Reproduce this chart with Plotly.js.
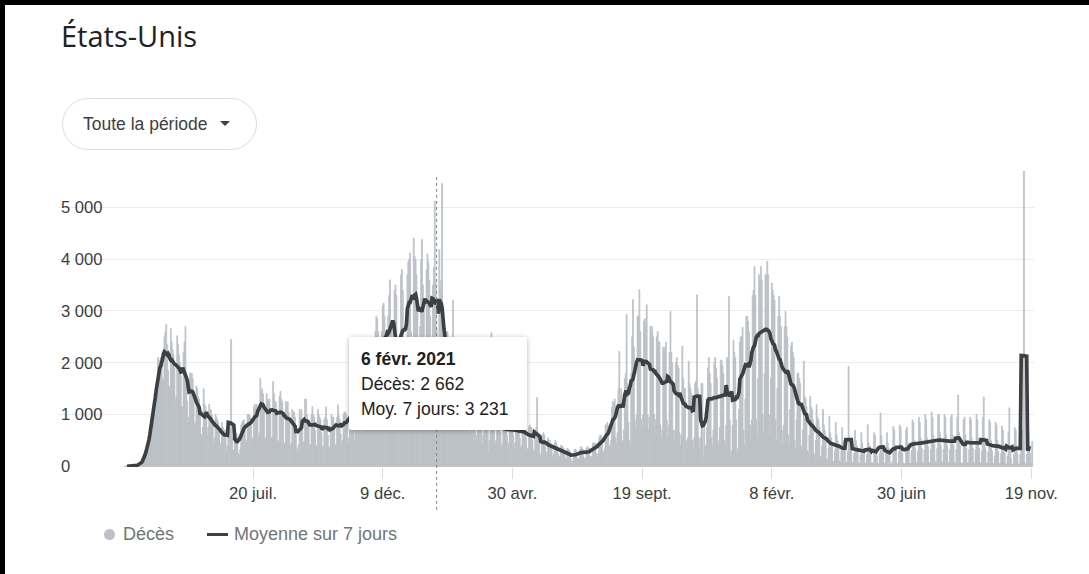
<!DOCTYPE html>
<html lang="fr">
<head>
<meta charset="utf-8">
<script src="https://cdn.plot.ly/plotly-3.0.1.min.js"></script>
<style>
  html, body { margin:0; padding:0; width:1089px; height:574px; overflow:hidden; background:#fff;
    font-family: Arial, "Liberation Sans", sans-serif; }
  #chart { position:absolute; left:0; top:0; width:1089px; height:574px; }
  .frameTop { position:absolute; left:0; top:0; width:1089px; height:5px; background:#000; }
  .frameLeft { position:absolute; left:0; top:0; width:5px; height:574px; background:#000; }
  #period { position:absolute; left:62px; top:98px; width:195px; height:52px; box-sizing:border-box;
    border:1px solid #dadce0; border-radius:26px; font-size:17.5px; color:#3c4043; line-height:50px;
    padding-left:20px; white-space:nowrap; }
  #period .caret { display:inline-block; width:0; height:0; margin-left:12px; vertical-align:middle;
    border-left:5px solid transparent; border-right:5px solid transparent; border-top:5px solid #3c4043;
    position:relative; top:-2px; }
  #tip { position:absolute; left:349px; top:337px; width:178px; height:93px; box-sizing:border-box;
    background:#fff; box-shadow:0 1px 5px rgba(0,0,0,0.30); border-radius:2px; padding:10px 0 0 12px;
    font-size:17.5px; line-height:25px; color:#202124; white-space:nowrap; }
  #tip b { font-weight:bold; }
  .lg { position:absolute; font-size:18px; line-height:20px; color:#70757a; white-space:nowrap; }
  .dot { position:absolute; left:104px; top:529px; width:11px; height:11px; border-radius:50%; background:#bdc1c6; }
  .dash { position:absolute; left:207px; top:533px; width:21px; height:3px; background:#3c4043; }
</style>
</head>
<body>
<div id="chart"></div>
<div id="period">Toute la période<span class="caret"></span></div>
<div class="dot"></div><div class="lg" style="left:123px;top:524px;">Décès</div>
<div class="dash"></div><div class="lg" style="left:234px;top:524px;">Moyenne sur 7 jours</div>
<div id="tip"></div>
<div class="frameTop"></div><div class="frameLeft"></div>
<script>
// ---------- data ----------
const chartTitle = 'États-Unis';
const startDate = '2020-03-01'; // first day of the daily series (a Sunday)

// Daily deaths, one row per week (Sun..Sat)
const deaths2020 = [
  0,1,1,3,3,2,3,
  3,5,8,9,10,12,14,
  14,22,32,44,58,72,58,
  110,150,230,280,380,430,450,
  500,600,900,1000,1150,1250,1000,
  1350,1450,2100,2000,2050,2100,1950,
  1700,1650,2500,2600,2740,2350,1850,
  1550,1500,2660,2400,2250,2150,1900,
  1250,1350,2520,2350,2150,2000,1750,
  1150,1150,2200,2400,2700,1650,1250,
  850,950,1800,1750,1800,1700,1350,
  800,850,1550,1500,1350,1300,1100,
  620,550,750,1500,1200,1150,950,
  600,750,1200,1050,1100,1000,800,
  450,550,1000,950,900,850,750,
  350,450,850,750,700,700,550,
  300,400,800,750,700,2450,550,
  280,320,700,650,620,580,250,
  220,330,800,850,880,900,700,
  450,500,1000,1000,1000,950,800,
  500,550,1150,1200,1100,1200,1000,
  550,650,1700,1450,1500,1400,1200,
  500,550,1400,1300,1250,1300,1000,
  550,550,1640,1400,1200,1250,1000,
  500,480,1350,1450,1300,1250,1000,
  450,450,1250,1150,1250,1050,950,
  400,450,1100,1050,1050,950,650,
  350,280,420,1100,950,1100,700,
  450,480,1300,1300,1000,900,750,
  400,420,1000,1150,1000,950,700,
  380,400,1100,1000,950,900,650,
  350,400,900,950,1150,900,600,
  380,350,750,1000,950,950,700,
  400,420,950,1190,980,900,620,
  430,500,1000,1050,1050,1000,850,
  420,550,1150,1200,1150,1250,1000,
  500,700,1450,1400,1200,1400,1200,
  650,800,1700,2050,2000,1950,1500,
  850,1000,2200,2300,1300,1400,1250,
  800,1200,2600,2900,2850,2600,2400,
  1200,1400,2600,3100,3150,2900,2500,
  1400,1500,2900,3300,3600,2800,2700,
  1750,1950,3400,3500,3300,1300,1500,
  1400,1900,3700,3800,3400,2000,2100
];
const deaths2021 = [
  1450,2000,3700,3950,4000,4120,2600,
  1800,2000,4410,4050,4000,3700,3200,
  1900,1450,2700,4000,4380,3500,3000,
  1900,2000,3800,4100,3950,3600,2900,
  1850,1900,3500,3850,5120,3550,2662,
  1450,1800,4185,3400,3600,5460,2300,
  1300,1200,2200,2600,2600,2400,1800,
  1200,1300,2500,3200,2400,2200,1600,
  1050,1300,2100,2400,2200,1900,1500,
  750,900,1900,2000,1800,1600,1200,
  650,800,1400,1500,1450,1300,1000,
  500,600,1200,1250,1200,1150,900,
  450,600,1100,1200,1150,1050,750,
  300,500,1000,2580,1100,1000,750,
  400,500,950,1000,950,900,650,
  380,450,900,950,950,850,600,
  350,450,850,950,900,850,600,
  350,450,850,900,900,850,550,
  350,400,850,900,850,800,550,
  300,350,750,800,750,750,500,
  280,330,700,750,1330,650,450,
  250,200,550,600,650,600,400,
  220,280,550,500,500,450,350,
  180,230,450,500,450,400,250,
  150,200,400,400,380,350,230,
  130,170,350,330,320,280,150,
  80,100,250,320,330,300,150,
  120,150,330,380,360,330,180,
  130,160,350,380,360,350,200,
  140,200,450,450,420,450,250,
  180,250,550,600,600,550,300,
  250,350,800,800,850,800,400,
  350,500,1150,1250,1200,1300,550,
  450,650,1500,2220,1300,1500,450,
  500,700,1700,1800,2930,1600,850,
  500,400,1800,2500,3220,2300,900,
  700,1000,2900,2900,3410,2600,900,
  750,1000,2800,2850,2700,3120,1000,
  700,950,2700,2600,2700,2500,1000,
  650,900,2500,2600,2400,2400,800,
  550,700,2300,2200,2300,2400,900,
  550,800,2200,2990,2200,2000,700,
  500,700,2000,2100,1950,1900,650,
  400,600,2320,1700,1500,1500,500,
  350,550,2030,1600,1500,1400,500,
  350,550,1600,1650,3310,1500,550,
  350,550,1600,1600,200,800,400,
  400,750,1900,2100,1800,1600,550,
  400,700,2000,2100,1900,1700,500,
  400,750,2050,2050,1950,1800,500,
  450,800,2100,2050,3280,900,200,
  300,800,2440,2200,2100,900,250
];
const deaths2022 = [
  350,1100,2400,2500,2500,2680,700,
  400,1300,2900,2900,2800,2600,800,
  500,900,3300,3400,3860,3300,900,
  600,1700,3700,3600,3860,3600,1000,
  650,1800,3700,3700,3960,3700,1000,
  600,1700,3540,3400,3300,3200,900,
  500,1500,2900,3280,2900,2700,700,
  450,800,2700,2990,2700,2500,600,
  400,1100,2320,2400,2200,2100,500,
  350,900,1800,1800,1700,1600,400,
  300,700,2030,1350,1300,1150,300,
  250,600,1350,1150,1100,900,250,
  200,500,1190,950,900,750,200,
  150,400,1100,800,700,600,150,
  120,350,970,650,550,400,100,
  80,300,850,600,500,350,100,
  80,300,750,500,450,300,80,
  80,280,1930,500,450,350,80,
  70,250,700,500,400,300,60,
  60,220,650,450,350,250,60,
  60,230,805,450,400,300,70,
  50,80,650,600,350,200,50,
  50,250,1030,600,400,250,60,
  50,250,650,450,350,200,50,
  50,100,770,700,400,300,60,
  50,280,800,750,400,250,60,
  40,60,700,750,450,300,60,
  60,300,900,850,500,350,80,
  60,300,950,850,550,350,80,
  60,320,1000,900,550,380,80,
  70,330,1050,950,600,420,90,
  70,350,1000,1000,650,400,90,
  60,330,1000,950,600,400,80,
  60,330,950,1000,600,400,80,
  60,330,950,1380,650,400,70,
  50,60,900,950,600,350,70,
  60,320,950,900,550,350,70,
  60,320,1000,900,550,350,70,
  60,300,950,1340,550,330,60,
  50,280,900,850,500,300,60,
  50,200,850,800,500,280,50,
  50,250,780,700,420,260,50,
  40,200,650,1130,300,150,40,
  40,230,750,700,400,250,50,
  40,230,750,700,400,12800,60,
  40,230,700,650,400,250,50,
  480
];

const xTickDates  = ['2020-07-20','2020-12-09','2021-04-30','2021-09-19','2022-02-08','2022-06-30','2022-11-19'];
const xTickLabels = ['20 juil.','9 déc.','30 avr.','19 sept.','8 févr.','30 juin','19 nov.'];
const yTickVals   = [0,1000,2000,3000,4000,5000];

const seriesNames = { bars: 'Décès', line: 'Moyenne sur 7 jours' };
const hoverDate = '2021-02-06';
const hoverLabel = '6 févr. 2021';

// ---------- derived ----------
const deaths = deaths2020.concat(deaths2021, deaths2022);
const t0 = Date.parse(startDate + 'T00:00:00Z');
const dates = deaths.map((_, i) => new Date(t0 + i * 864e5).toISOString().slice(0, 10));

// centred 7-day mean
const avgX = [], avgY = [];
for (let i = 3; i < deaths.length - 3; i++) {
  let s = 0;
  for (let k = -3; k <= 3; k++) s += deaths[i + k];
  avgX.push(dates[i]); avgY.push(s / 7);
}

function fmt(n) { return String(Math.round(n)).replace(/\B(?=(\d{3})+(?!\d))/g, '\u00a0'); }

const hi = dates.indexOf(hoverDate);
const hAvg = avgY[avgX.indexOf(hoverDate)];
document.getElementById('tip').innerHTML =
  '<b>' + hoverLabel + '</b><br>' + seriesNames.bars + ': ' + fmt(deaths[hi]) +
  '<br>Moy. 7 jours: ' + fmt(hAvg);

// ---------- plot ----------
const W = 1089, H = 574;
const L = 58, R = 55, T = 171, B = 107;
const plotW = W - L - R;
const yMin = -12, yMax = 5702;
const ySpan = yMax - yMin;
const tickFont = { family: 'Arial, "Liberation Sans", sans-serif', size: 16.6, color: '#3c4043' };

const masks = yTickVals.map(v => ({
  type: 'rect', xref: 'paper', yref: 'paper', layer: 'between',
  x0: 0, x1: ((v === 0 ? 75 : 106) - L) / plotW,
  y0: (v - 170 - yMin) / ySpan, y1: (v + 170 - yMin) / ySpan,
  fillcolor: '#ffffff', line: { width: 0 }
}));

const shapes = masks.concat([{
  type: 'line', xref: 'x', yref: 'paper', layer: 'above',
  x0: hoverDate, x1: hoverDate, y0: -0.145, y1: 0.986,
  line: { color: '#80868b', width: 1, dash: 'dot' }
}]);

const traces = [
  { type: 'bar', x: dates, y: deaths, name: seriesNames.bars,
    marker: { color: '#bdc1c6', line: { width: 0.8, color: '#bdc1c6' } }, hoverinfo: 'skip' },
  { type: 'scatter', mode: 'lines', x: avgX, y: avgY, name: seriesNames.line,
    line: { color: '#3c4043', width: 3.7 }, hoverinfo: 'skip' }
];

const layout = {
  width: W, height: H,
  margin: { l: L, r: R, t: T, b: B, pad: 0 },
  paper_bgcolor: '#ffffff', plot_bgcolor: '#ffffff',
  showlegend: false,
  bargap: 0,
  separators: ', ',
  title: { text: chartTitle, font: { family: '"Open Sans", Roboto, sans-serif', size: 29, color: '#202124' },
    x: 61 / W, xref: 'container', xanchor: 'left', y: 1 - 37 / H, yref: 'container', yanchor: 'middle' },
  xaxis: {
    type: 'date', range: ['2019-12-19 12:00', '2022-11-22 00:00'],
    tickmode: 'array', tickvals: xTickDates, ticktext: xTickLabels,
    ticks: 'outside', ticklen: 11, tickwidth: 1, tickcolor: '#dadce0',
    showgrid: false, zeroline: false, showline: false, tickfont: tickFont, fixedrange: true
  },
  yaxis: {
    range: [yMin, yMax], tickmode: 'array', tickvals: yTickVals, tickformat: ',d',
    ticklabelposition: 'inside', ticklabeloverflow: 'allow', ticks: '',
    showgrid: true, gridcolor: '#ececec', gridwidth: 1,
    zeroline: false, showline: false, tickfont: tickFont, fixedrange: true
  },
  shapes: shapes
};

Plotly.newPlot('chart', traces, layout, { staticPlot: true, displayModeBar: false });
</script>
</body>
</html>
